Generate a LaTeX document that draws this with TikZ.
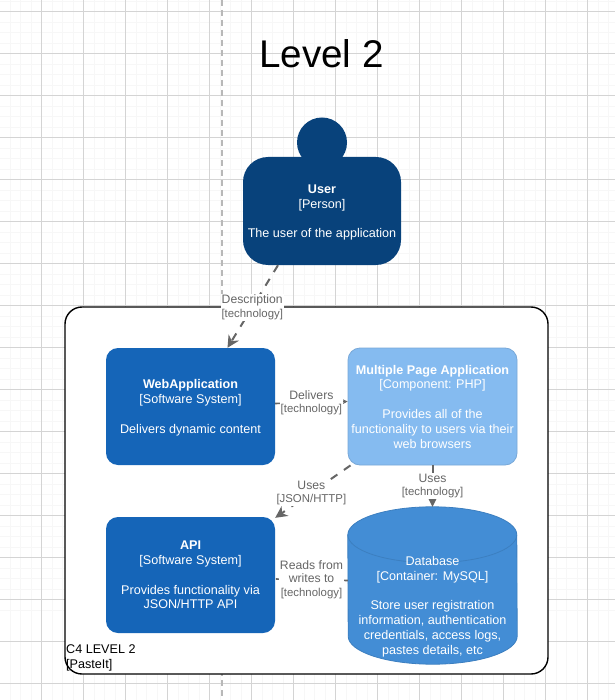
\documentclass[tikz,border=0pt]{standalone}
\usepackage{fontspec}
\setmainfont{Liberation Sans}
\usetikzlibrary{arrows.meta}
\definecolor{personblue}{HTML}{08427B}
\definecolor{sysblue}{HTML}{1565B8}
\definecolor{compblue}{HTML}{85BBF0}
\definecolor{compline}{HTML}{78A8D8}
\definecolor{dbblue}{HTML}{438DD5}
\definecolor{dbline}{HTML}{3C7FC0}
\definecolor{linkgray}{HTML}{666666}
\newcommand{\techtag}[1]{{\fontsize{11.4}{13.2}\selectfont #1}}
\newcommand{\lowerline}{\rule{0pt}{12pt}}
\tikzset{
  x=1pt,y=-1pt,
  body/.style={font=\fontsize{12.6}{14.8}\selectfont,text=white,align=center,inner sep=0pt},
  sysbox/.style={body,rectangle,rounded corners=12pt,fill=sysblue,minimum width=169pt,minimum height=117pt},
  compbox/.style={body,rectangle,rounded corners=12pt,fill=compblue,draw=compline,line width=.8pt,minimum width=169pt,minimum height=117pt},
  link/.style={draw=linkgray,line width=2pt,dash pattern=on 8pt off 8pt,-{Stealth[length=12pt,width=12pt]}},
  smalllink/.style={draw=linkgray,line width=1.6pt,dash pattern=on 8pt off 8pt,-{Stealth[length=5pt,width=5pt]}},
  linklabel/.style={font=\fontsize{12.2}{13.2}\selectfont,text=linkgray,align=center,fill=white,inner sep=1pt},
  minorgrid/.style={draw=black!3,line width=.7pt},
  majorgrid/.style={draw=black!17,line width=.8pt},
}
\begin{document}
\begin{tikzpicture}
\useasboundingbox (0,0) rectangle (615,700);
\clip (0,0) rectangle (615,700);
\fill[white] (0,0) rectangle (615,700);
% grid
\foreach \k in {-3,...,57}{
  \draw[minorgrid] ({41.7+10.5*\k},0) -- ({41.7+10.5*\k},700);
  \draw[minorgrid] (0,{11.5+10.5*\k}) -- (615,{11.5+10.5*\k});
}
\foreach \k in {0,...,14}{
  \draw[majorgrid] ({41.7+42*\k},0) -- ({41.7+42*\k},700);
}
\foreach \k in {0,...,16}{
  \draw[majorgrid] (0,{11.5+42*\k}) -- (615,{11.5+42*\k});
}
% page break guide
\draw[draw=black!28,line width=1.2pt,dash pattern=on 6pt off 4pt] (222,0) -- (222,700);
% title
\node[font=\fontsize{38.6}{44}\selectfont,text=black,inner sep=0pt] (title) at (321.5,54) {Level 2};
% boundary
\node[rectangle,rounded corners=17pt,draw=black,line width=1.4pt,fill=white,minimum width=483pt,minimum height=367pt,inner sep=0pt] (boundary) at (306.5,490.5) {};
\node[font=\fontsize{12.6}{14.8}\selectfont,text=black,align=left,anchor=south west,inner sep=0pt] (boundlabel) at (66,671.5) {C4 LEVEL 2\\{}[PasteIt]};
% user
\node[circle,fill=personblue,minimum size=50pt,inner sep=0pt] (head) at (322,142.5) {};
\node[body,rectangle,rounded corners=25pt,fill=personblue,minimum width=158pt,minimum height=108pt] (user) at (322,211) {\lowerline\textbf{User}\\{}[Person]\\[14.8pt]The user of the application};
% containers
\node[sysbox] (web) at (190.5,406.5) {\lowerline\textbf{WebApplication}\\{}[Software System]\\[14.8pt]Delivers dynamic content};
\node[compbox] (mpa) at (432.5,406.5) {\textbf{Multiple Page Application}\\{}[Component: PHP]\\[14.8pt]Provides all of the\\functionality to users via their\\web browsers};
\node[sysbox,minimum height=116pt] (api) at (190.5,575) {\textbf{API}\\{}[Software System]\\[14.8pt]Provides functionality via\\JSON/HTTP API};
% database
\node[rectangle,minimum width=169pt,minimum height=157pt,inner sep=0pt] (db) at (432.5,585.5) {};
\path[fill=dbblue,draw=dbline,line width=.8pt] ([yshift=-28pt]db.north west)
  arc[start angle=180,end angle=0,x radius=84.5pt,y radius=28pt]
  -- ([yshift=28pt]db.south east)
  arc[start angle=0,end angle=-180,x radius=84.5pt,y radius=28pt] -- cycle;
\path[draw=dbline,line width=.8pt] ([yshift=-28pt]db.north west)
  arc[start angle=180,end angle=360,x radius=84.5pt,y radius=28pt];
\node[body] (dbtext) at ([yshift=-21pt]db.center) {Database\\{}[Container: MySQL]\\[14.8pt]Store user registration\\information, authentication\\credentials, access logs,\\pastes details, etc};
% connectors
\path[link] ([xshift=-44pt]user.south) -- node[linklabel,pos=.51] (l1) {Description\\\techtag{[technology]}} ([xshift=37pt]web.north);
\path[smalllink] ([yshift=3pt]web.east) -- node[linklabel,pos=.5] (l2) {Delivers\\\techtag{[technology]}} ([yshift=5pt]mpa.west);
\path[link] ([xshift=-82pt]mpa.south) -- node[linklabel,pos=.52] (l3) {Uses\\\techtag{[JSON/HTTP]}} ([yshift=-1pt]api.north east);
\path[link] (mpa.south) -- node[linklabel,pos=.5] (l4) {Uses\\\techtag{[technology]}} (db.north);
\path[smalllink,-] ([yshift=5pt]db.west) -- node[linklabel,pos=.5] (l5) {Reads from\\writes to\\\techtag{[technology]}} ([yshift=-4pt]api.east);
\end{tikzpicture}
\end{document}
